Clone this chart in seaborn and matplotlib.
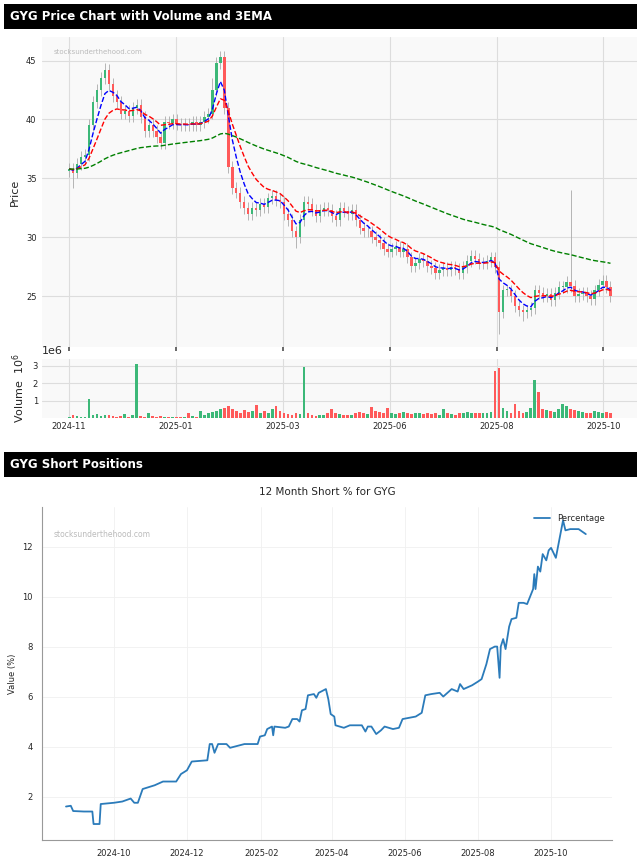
import numpy as np
import pandas as pd
import matplotlib
matplotlib.use("Agg")
import matplotlib.pyplot as plt
import seaborn as sns

sns.set_theme(style="whitegrid")
plt.rcParams['font.family'] = ['DejaVu Sans']

# ---------------- price data (approx. 1.5 trading days per candle) ----------------
closes = [35.8,35.5,36.2,36.8,37.0,39.5,41.5,42.5,43.5,44.2,
          43.0,42.0,41.5,40.5,40.7,40.3,41.0,41.2,40.2,39.0,
          39.5,39.0,38.5,38.0,39.8,39.7,40.0,39.6,39.5,39.6,
          39.5,39.8,39.5,39.8,40.2,40.5,42.5,44.8,45.3,41.0,
          36.0,34.2,33.8,33.0,32.5,32.0,32.5,32.3,32.8,32.6,
          33.3,33.5,33.2,33.0,32.0,31.5,30.5,30.0,31.5,33.0,
          32.8,32.3,31.8,32.3,32.5,32.3,31.8,31.5,32.5,32.2,
          32.0,32.3,31.5,30.8,30.5,30.5,30.0,29.8,29.5,29.0,
          28.8,29.0,29.2,28.8,29.0,28.3,27.6,27.8,28.2,28.0,
          27.6,27.4,27.0,27.2,27.4,27.2,27.5,27.3,27.0,27.5,
          28.0,28.4,28.2,27.8,27.8,28.0,28.3,27.5,23.7,25.5,
          25.5,25.0,24.2,23.8,23.7,23.8,24.0,25.5,25.3,25.0,
          25.2,24.7,25.3,25.8,25.8,26.2,25.9,25.0,25.2,25.3,
          25.0,24.8,25.5,26.0,26.3,25.8,25.0]
first_open = 35.6
wick = 0.5
high_special = {9: 44.8, 36: 43.5, 38: 45.8, 126: 34.0}
low_special = {1: 34.2, 57: 29.1, 108: 21.8, 114: 22.9}
volume_m = [0.1,0.2,0.15,0.1,0.1,1.1,0.2,0.25,0.15,0.2,
            0.2,0.15,0.1,0.15,0.25,0.1,0.2,3.1,0.15,0.1,
            0.3,0.15,0.1,0.15,0.05,0.05,0.05,0.1,0.05,0.1,
            0.3,0.15,0.1,0.4,0.2,0.3,0.35,0.4,0.5,0.6,
            0.7,0.5,0.4,0.3,0.45,0.35,0.4,0.75,0.3,0.4,
            0.3,0.5,0.7,0.4,0.3,0.25,0.2,0.3,0.25,2.9,
            0.3,0.2,0.15,0.2,0.2,0.3,0.5,0.3,0.25,0.2,
            0.2,0.2,0.3,0.35,0.3,0.25,0.65,0.4,0.35,0.3,
            0.6,0.3,0.25,0.3,0.35,0.3,0.25,0.3,0.3,0.25,
            0.3,0.25,0.3,0.2,0.5,0.3,0.25,0.2,0.3,0.3,
            0.35,0.3,0.3,0.3,0.3,0.3,0.35,2.7,2.85,0.6,
            0.4,0.3,0.8,0.4,0.3,0.35,0.6,2.2,1.5,0.5,
            0.45,0.4,0.35,0.5,0.8,0.7,0.55,0.45,0.4,0.35,
            0.3,0.3,0.4,0.35,0.3,0.35,0.3]
price_tick_labels = ["2024-11", "2025-01", "2025-03", "2025-06", "2025-08", "2025-10"]
price_tick_frac = [0.0, 0.1976, 0.395, 0.593, 0.790, 0.987]
ema_spans = [5, 11, 75]
ema_colors = ["blue", "red", "green"]

# ---------------- short position data ----------------
short_dates = ["2024-08-22","2024-08-26","2024-08-28","2024-09-06","2024-09-13","2024-09-14","2024-09-19",
    "2024-09-20","2024-10-01","2024-10-08","2024-10-15","2024-10-18","2024-10-21","2024-10-25",
    "2024-11-04","2024-11-11","2024-11-22","2024-11-26","2024-12-01","2024-12-05","2024-12-18",
    "2024-12-20","2024-12-22","2024-12-24","2024-12-27","2025-01-03","2025-01-06","2025-01-18",
    "2025-01-29","2025-01-31","2025-02-04","2025-02-06","2025-02-10","2025-02-11","2025-02-12",
    "2025-02-21","2025-02-24","2025-02-27","2025-03-03","2025-03-05","2025-03-07","2025-03-10",
    "2025-03-12","2025-03-17","2025-03-19","2025-03-21","2025-03-27","2025-03-29","2025-03-31",
    "2025-04-03","2025-04-04","2025-04-11","2025-04-16","2025-04-26","2025-04-29","2025-05-01",
    "2025-05-04","2025-05-08","2025-05-12","2025-05-15","2025-05-22","2025-05-27","2025-05-30",
    "2025-06-10","2025-06-15","2025-06-18","2025-06-23","2025-06-30","2025-07-03","2025-07-10",
    "2025-07-15","2025-07-17","2025-07-20","2025-07-27","2025-08-01","2025-08-04","2025-08-08",
    "2025-08-11","2025-08-15","2025-08-17","2025-08-19","2025-08-20","2025-08-22","2025-08-24",
    "2025-08-27","2025-08-29","2025-09-02","2025-09-04","2025-09-08","2025-09-11","2025-09-16",
    "2025-09-17","2025-09-18","2025-09-20","2025-09-22","2025-09-24","2025-09-27","2025-09-29",
    "2025-10-01","2025-10-05","2025-10-08","2025-10-11","2025-10-13","2025-10-17","2025-10-24",
    "2025-10-27","2025-10-30"]
short_pct = [1.6,1.63,1.42,1.4,1.4,0.9,0.9,
    1.7,1.75,1.8,1.92,1.75,1.75,2.3,
    2.45,2.6,2.6,2.9,3.05,3.4,3.45,
    4.1,4.1,3.75,4.1,4.1,3.95,4.1,
    4.1,4.4,4.45,4.7,4.8,4.45,4.8,
    4.75,4.8,5.1,5.1,5.0,5.45,5.5,
    6.05,6.1,5.95,6.15,6.3,5.9,5.3,
    5.2,4.85,4.75,4.85,4.85,4.6,4.8,
    4.8,4.5,4.65,4.8,4.7,4.75,5.1,
    5.2,5.35,6.05,6.1,6.15,6.0,6.3,
    6.2,6.5,6.3,6.45,6.6,6.7,7.3,
    7.9,8.0,8.0,6.75,8.0,8.3,7.9,
    8.8,9.1,9.15,9.75,9.75,9.7,10.3,
    10.9,10.3,11.2,11.0,11.7,11.45,11.85,
    11.95,11.55,12.3,13.05,12.65,12.7,12.7,
    12.6,12.5]

# ---------------- derived frame ----------------
df = pd.DataFrame({"close": closes, "volume": np.array(volume_m) * 1e6})
df["open"] = df["close"].shift(1).fillna(first_open)
df["high"] = df[["open", "close"]].max(axis=1) + wick
df["low"] = df[["open", "close"]].min(axis=1) - wick
for k, v in high_special.items():
    df.loc[k, "high"] = v
for k, v in low_special.items():
    df.loc[k, "low"] = v
df["x"] = np.arange(len(df))
up = df["close"] >= df["open"]
GREEN, RED = "#3cb878", "#ff5a5a"
colors = np.where(up, GREEN, RED)
N1 = len(df) - 1

fig = plt.figure(figsize=(6.37, 8.66), dpi=100)

def header(y0, text):
    hax = fig.add_axes([0.006, y0, 0.994, 0.029])
    hax.set_facecolor("black")
    hax.set_xticks([]); hax.set_yticks([])
    for s in hax.spines.values():
        s.set_visible(False)
    hax.text(0.01, 0.5, text, color="white", fontsize=8.5, fontweight="bold", va="center",
             transform=hax.transAxes)

header(0.9665, "GYG Price Chart with Volume and 3EMA")
header(0.449, "GYG Short Positions")

# price axes
ax = fig.add_axes([0.066, 0.5993, 0.934, 0.358])
ax.set_facecolor("#f9f9f9")
ax.vlines(df["x"], df["low"], df["high"], color="#aaaaaa", linewidth=0.6, zorder=2)
body_bottom = df[["open", "close"]].min(axis=1)
body_h = (df["close"] - df["open"]).abs().clip(lower=0.08)
ax.bar(df["x"], body_h, bottom=body_bottom, width=0.6, color=colors, linewidth=0, zorder=3)
for span, c in zip(ema_spans, ema_colors):
    ema = df["close"].ewm(span=span, adjust=False).mean()
    sns.lineplot(x=df["x"], y=ema, ax=ax, color=c, linestyle="--", linewidth=1.0, zorder=4)
ticks = [f * N1 for f in price_tick_frac]
xl = (-0.05 * N1, 1.049 * N1)
ax.set_xlim(*xl)
ax.set_ylim(20.7, 47.0)
ax.set_xticks(ticks)
ax.set_xticklabels([])
ax.set_yticks([25, 30, 35, 40, 45])
ax.tick_params(axis="y", labelsize=6, length=0, pad=4)
ax.tick_params(axis="x", length=3, color="#555555", direction="out", bottom=True)
ax.grid(True, color="#dddddd", linewidth=0.8)
for s in ax.spines.values():
    s.set_visible(False)
ax.set_ylabel("Price", fontsize=8)
ax.set_xlabel("")
ax.text(0.02, 0.96, "stocksunderthehood.com", transform=ax.transAxes, fontsize=5,
        color="#bbbbbb", va="top")

# volume axes
vax = fig.add_axes([0.066, 0.517, 0.934, 0.069])
vax.set_facecolor("#f9f9f9")
vax.bar(df["x"], df["volume"], width=0.7, color=colors, linewidth=0)
vax.set_xlim(*xl)
vax.set_ylim(0, 3.4e6)
vax.set_yticks([1e6, 2e6, 3e6])
vax.set_xticks(ticks)
vax.set_xticklabels(price_tick_labels)
vax.tick_params(axis="both", labelsize=6, length=0, pad=3)
vax.grid(True, color="#dddddd", linewidth=0.8)
for s in vax.spines.values():
    s.set_visible(False)
vax.set_ylabel("Volume  $10^6$", fontsize=8)
vax.yaxis.get_offset_text().set_fontsize(8)

# short axes
sdf = pd.DataFrame({"date": pd.to_datetime(short_dates), "pct": short_pct})
bax = fig.add_axes([0.066, 0.030, 0.895, 0.385])
bax.set_facecolor("white")
sns.lineplot(data=sdf, x="date", y="pct", ax=bax, color="#2b7bba", linewidth=1.3, label="Percentage")
bax.set_xlim(pd.Timestamp("2024-08-02"), pd.Timestamp("2024-11-21") + pd.DateOffset(years=1))
bax.set_ylim(0.26, 13.6)
bax.set_xticks(pd.to_datetime(["2024-10-01","2024-12-01","2025-02-01","2025-04-01",
                               "2025-06-01","2025-08-01","2025-10-01"]))
bax.xaxis.set_major_formatter(matplotlib.dates.DateFormatter("%Y-%m"))
bax.set_yticks([2, 4, 6, 8, 10, 12])
bax.tick_params(axis="both", labelsize=6, length=3, color="#888888")
bax.grid(True, color="#f0f0f0", linewidth=0.6)
for side in ["top", "right"]:
    bax.spines[side].set_visible(False)
for side in ["left", "bottom"]:
    bax.spines[side].set_color("#999999")
    bax.spines[side].set_linewidth(0.8)
bax.set_xlabel("")
bax.set_ylabel("Value (%)", fontsize=6)
bax.set_title("12 Month Short % for GYG", fontsize=7.5, pad=8)
bax.legend(loc="upper right", frameon=False, fontsize=6)
bax.text(0.02, 0.93, "stocksunderthehood.com", transform=bax.transAxes, fontsize=5.5,
         color="#bbbbbb", va="top")

fig.savefig("out.png", dpi=100, facecolor="white")
